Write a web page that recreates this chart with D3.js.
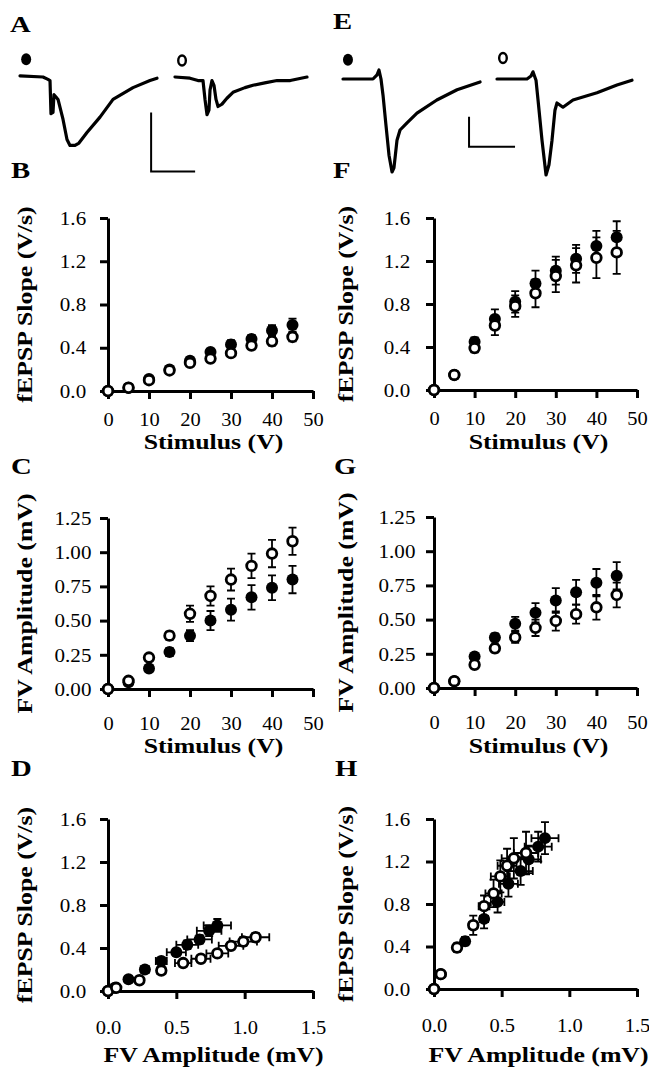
<!DOCTYPE html>
<html>
<head>
<meta charset="utf-8">
<script src="https://cdn.jsdelivr.net/npm/d3@7"></script>
<style>
  body { margin: 0; background: #fff; }
  text { font-family: "Liberation Serif", "Times New Roman", serif; fill: #000; }
</style>
</head>
<body>
<div class="chart"></div>
<script>
// ---- data ----
var stimulus = [0, 5, 10, 15, 20, 25, 30, 35, 40, 45];

// left column (B, C, D)
var slopeLeftFilled    = [0, 0.03, 0.11, 0.20, 0.28, 0.36, 0.43, 0.48, 0.56, 0.61];
var slopeLeftFilledErr = [0.01, 0.01, 0.02, 0.02, 0.03, 0.03, 0.04, 0.04, 0.05, 0.06];
var slopeLeftOpen      = [0, 0.03, 0.10, 0.19, 0.26, 0.30, 0.35, 0.42, 0.46, 0.50];
var slopeLeftOpenErr   = [0.01, 0.01, 0.02, 0.02, 0.02, 0.03, 0.03, 0.03, 0.04, 0.04];
var fvLeftFilled       = [0, 0.05, 0.15, 0.27, 0.39, 0.50, 0.58, 0.67, 0.74, 0.80];
var fvLeftFilledErr    = [0.01, 0.02, 0.02, 0.03, 0.04, 0.07, 0.08, 0.09, 0.09, 0.10];
var fvLeftOpen         = [0, 0.06, 0.23, 0.39, 0.55, 0.68, 0.80, 0.90, 0.99, 1.08];
var fvLeftOpenErr      = [0.01, 0.02, 0.02, 0.03, 0.06, 0.07, 0.08, 0.09, 0.10, 0.10];

// right column (F, G, H)
var slopeRightFilled    = [0, 0.14, 0.45, 0.66, 0.82, 0.99, 1.11, 1.22, 1.34, 1.42];
var slopeRightFilledErr = [0.01, 0.02, 0.04, 0.09, 0.10, 0.12, 0.13, 0.13, 0.14, 0.15];
var slopeRightOpen      = [0, 0.14, 0.39, 0.60, 0.78, 0.90, 1.06, 1.16, 1.23, 1.28];
var slopeRightOpenErr   = [0.01, 0.02, 0.04, 0.09, 0.10, 0.13, 0.15, 0.16, 0.19, 0.20];
var fvRightFilled       = [0, 0.05, 0.23, 0.37, 0.47, 0.55, 0.64, 0.70, 0.77, 0.82];
var fvRightFilledErr    = [0.01, 0.01, 0.02, 0.03, 0.05, 0.07, 0.09, 0.09, 0.10, 0.10];
var fvRightOpen         = [0, 0.05, 0.17, 0.29, 0.37, 0.44, 0.49, 0.54, 0.59, 0.68];
var fvRightOpenErr      = [0.01, 0.01, 0.02, 0.03, 0.04, 0.06, 0.07, 0.07, 0.09, 0.09];

var stimTicks  = [0, 10, 20, 30, 40, 50];
var slopeTicks = [0, 0.4, 0.8, 1.2, 1.6];
var fvTicks    = [0, 0.25, 0.5, 0.75, 1.0, 1.25];
var fvXTicks   = [0, 0.5, 1.0, 1.5];

// example traces: [time (ms), voltage (mV)]
var traceAFilled = [[0,0.01],[2.61,0],[3.18,-0.02],[3.41,-0.03],[3.52,-0.31],[3.75,-0.30],[3.86,-0.15],
  [4.09,-0.17],[4.32,-0.19],[4.89,-0.36],[5.34,-0.53],[5.68,-0.58],[6.25,-0.58],[6.7,-0.56],[7.61,-0.47],
  [9.09,-0.34],[10.57,-0.19],[12.84,-0.09],[14.77,-0.03],[15.57,-0.01]];
var traceAOpen = [[0,0],[1.7,-0.01],[2.61,-0.03],[3.18,-0.03],[3.41,-0.19],[3.64,-0.32],[3.86,-0.28],
  [3.98,-0.11],[4.2,-0.03],[4.43,-0.07],[4.66,-0.19],[4.89,-0.25],[5.34,-0.23],[5.9,-0.18],[6.59,-0.13],
  [7.95,-0.09],[8.86,-0.07],[10.2,-0.05],[11.6,-0.03],[13.1,-0.03],[15.0,0]];
var traceEFilled = [[0,0],[3.26,0],[3.7,0.07],[3.91,0.15],[4.13,0],[4.35,-0.27],[4.67,-0.77],[5.0,-1.27],
  [5.33,-1.55],[5.54,-1.48],[5.87,-1.02],[6.2,-0.85],[6.96,-0.73],[8.04,-0.57],[10.2,-0.35],[12.4,-0.18],[14.9,-0.05]];
var traceEOpen = [[0,0],[3.26,0],[3.7,0.05],[3.91,0.12],[4.24,-0.02],[4.46,-0.35],[4.89,-1.02],[5.33,-1.6],
  [5.65,-1.43],[5.98,-1.02],[6.3,-0.52],[6.52,-0.4],[7.17,-0.47],[8.26,-0.35],[10.87,-0.23],[13.04,-0.1],[14.67,-0.02]];
var scaleBarMs = 5, scaleBarMv = 0.5;

// ---- page ----
var svgWidth = 649, svgHeight = 1073;
var svg = d3.select(".chart").append("svg")
  .attr("width", svgWidth)
  .attr("height", svgHeight);
svg.append("rect").attr("width", svgWidth).attr("height", svgHeight).attr("fill", "#fff");

var TICK_FS = 19.5, TITLE_FS = 21.5, LETTER_FS = 23;

function panelLetter(txt, x, y) {
  svg.append("text")
    .attr("transform", `translate(${x},${y}) scale(1.25,1)`)
    .style("font-size", LETTER_FS + "px")
    .style("font-weight", "bold")
    .text(txt);
}

// scatter panel with error bars
function drawPanel(p) {
  var x = d3.scaleLinear().domain(p.xDomain).range([p.left, p.right]);
  var y = d3.scaleLinear().domain(p.yDomain).range([p.bottom, p.top]);
  var g = svg.append("g");

  var xAxis = g.append("g")
    .attr("transform", `translate(0,${p.bottom})`)
    .call(d3.axisBottom(x).tickValues(p.xTicks).tickFormat(p.xFormat).tickSize(8).tickSizeOuter(0));
  var yAxis = g.append("g")
    .attr("transform", `translate(${p.left},0)`)
    .call(d3.axisLeft(y).tickValues(p.yTicks).tickFormat(p.yFormat).tickSize(8).tickSizeOuter(0));

  [xAxis, yAxis].forEach(function(a) {
    a.select(".domain").attr("stroke-width", 3);
    a.selectAll(".tick line").attr("stroke-width", 3);
    a.selectAll("text").style("font-size", TICK_FS + "px").style("font-family", "Liberation Serif, serif");
  });
  xAxis.selectAll(".tick text")
    .attr("y", null).attr("dy", "0.35em")
    .attr("transform", `translate(0,${p.xLabelDy}) scale(1.05,1)`);
  yAxis.selectAll(".tick text")
    .attr("x", null).attr("text-anchor", "middle")
    .attr("transform", `translate(${-p.yLabelDx},0) scale(1.08,1)`);

  // axis titles
  g.append("text")
    .attr("transform", `translate(${(p.left + p.right) / 2 + 3},${p.xTitleY}) scale(1.2,1)`)
    .attr("text-anchor", "middle")
    .style("font-size", TITLE_FS + "px").style("font-weight", "bold")
    .text(p.xTitle);
  g.append("text")
    .attr("transform", `translate(${p.yTitleX},${(p.top + p.bottom) / 2}) rotate(-90) scale(1.2,1)`)
    .attr("text-anchor", "middle")
    .style("font-size", TITLE_FS + "px").style("font-weight", "bold")
    .text(p.yTitle);

  // series: filled drawn first, open on top
  p.series.forEach(function(s) {
    var pts = s.x.map(function(v, i) {
      return { x: v, y: s.y[i], xe: s.xErr ? s.xErr[i] : 0, ye: s.yErr[i] };
    });
    var sg = g.append("g");
    var cap = 4;
    // vertical error bars
    sg.selectAll("path.ey").data(pts).enter().append("path")
      .attr("class", "ey")
      .attr("d", function(d) {
        var cx = x(d.x), y1 = y(d.y - d.ye), y2 = y(d.y + d.ye);
        return `M${cx},${y1}V${y2}M${cx - cap},${y1}H${cx + cap}M${cx - cap},${y2}H${cx + cap}`;
      })
      .attr("stroke", "#000").attr("stroke-width", 1.8).attr("fill", "none");
    if (s.xErr) {
      sg.selectAll("path.ex").data(pts).enter().append("path")
        .attr("class", "ex")
        .attr("d", function(d) {
          var cy = y(d.y), x1 = x(d.x - d.xe), x2 = x(d.x + d.xe);
          return `M${x1},${cy}H${x2}M${x1},${cy - cap}V${cy + cap}M${x2},${cy - cap}V${cy + cap}`;
        })
        .attr("stroke", "#000").attr("stroke-width", 1.8).attr("fill", "none");
    }
    sg.selectAll("circle").data(pts).enter().append("circle")
      .attr("cx", function(d) { return x(d.x); })
      .attr("cy", function(d) { return y(d.y); })
      .attr("r", s.filled ? 6 : 4.8)
      .attr("fill", s.filled ? "#000" : "#fff")
      .attr("stroke", "#000")
      .attr("stroke-width", s.filled ? 0 : 2.8);
  });
}

var fmt1 = d3.format(".1f"), fmt2 = d3.format(".2f"), fmtInt = d3.format("d");
var colL = { left: 108, right: 313, yLabelDx: 35, yTitleX: 32 };
var colR = { left: 434, right: 637, yLabelDx: 37, yTitleX: 353 };

function stimSlope(col, bottom, top, filled, filledErr, open, openErr, extra) {
  return Object.assign({}, col, {
    bottom: bottom, top: top,
    xDomain: [0, 50], yDomain: [0, 1.6], xTicks: stimTicks, yTicks: slopeTicks,
    xFormat: fmtInt, yFormat: fmt1,
    xTitle: "Stimulus (V)", yTitle: "fEPSP Slope (V/s)",
    series: [
      { x: stimulus, y: filled, yErr: filledErr, filled: true },
      { x: stimulus, y: open, yErr: openErr, filled: false }
    ]
  }, extra);
}
function stimFv(col, bottom, top, filled, filledErr, open, openErr, extra) {
  return Object.assign({}, col, {
    bottom: bottom, top: top,
    xDomain: [0, 50], yDomain: [0, 1.25], xTicks: stimTicks, yTicks: fvTicks,
    xFormat: fmtInt, yFormat: fmt2,
    xTitle: "Stimulus (V)", yTitle: "FV Amplitude (mV)",
    series: [
      { x: stimulus, y: filled, yErr: filledErr, filled: true },
      { x: stimulus, y: open, yErr: openErr, filled: false }
    ]
  }, extra);
}
function fvSlope(col, bottom, top, fvF, fvFErr, slF, slFErr, fvO, fvOErr, slO, slOErr, extra) {
  return Object.assign({}, col, {
    bottom: bottom, top: top,
    xDomain: [0, 1.5], yDomain: [0, 1.6], xTicks: fvXTicks, yTicks: slopeTicks,
    xFormat: fmt1, yFormat: fmt1,
    xTitle: "FV Amplitude (mV)", yTitle: "fEPSP Slope (V/s)",
    series: [
      { x: fvF, xErr: fvFErr, y: slF, yErr: slFErr, filled: true },
      { x: fvO, xErr: fvOErr, y: slO, yErr: slOErr, filled: false }
    ]
  }, extra);
}

// B, C, D
drawPanel(stimSlope(colL, 391, 218, slopeLeftFilled, slopeLeftFilledErr, slopeLeftOpen, slopeLeftOpenErr,
  { xLabelDy: 28, xTitleY: 449 }));
drawPanel(stimFv(colL, 689, 518, fvLeftFilled, fvLeftFilledErr, fvLeftOpen, fvLeftOpenErr,
  { xLabelDy: 34, xTitleY: 753 }));
drawPanel(fvSlope(colL, 991, 819, fvLeftFilled, fvLeftFilledErr, slopeLeftFilled, slopeLeftFilledErr,
  fvLeftOpen, fvLeftOpenErr, slopeLeftOpen, slopeLeftOpenErr, { xLabelDy: 36, xTitleY: 1062 }));
// F, G, H
drawPanel(stimSlope(colR, 390, 218, slopeRightFilled, slopeRightFilledErr, slopeRightOpen, slopeRightOpenErr,
  { xLabelDy: 28, xTitleY: 449 }));
drawPanel(stimFv(colR, 688, 517, fvRightFilled, fvRightFilledErr, fvRightOpen, fvRightOpenErr,
  { xLabelDy: 34, xTitleY: 753 }));
drawPanel(fvSlope(colR, 989, 819, fvRightFilled, fvRightFilledErr, slopeRightFilled, slopeRightFilledErr,
  fvRightOpen, fvRightOpenErr, slopeRightOpen, slopeRightOpenErr, { xLabelDy: 36, xTitleY: 1062 }));

// ---- traces (A, E) ----
function drawTrace(data, x0, base, pxPerMs, pxPerMv, marker) {
  var tx = d3.scaleLinear().domain([0, 1]).range([x0, x0 + pxPerMs]);
  var ty = d3.scaleLinear().domain([0, 1]).range([base, base - pxPerMv]);
  svg.append("path")
    .datum(data)
    .attr("d", d3.line().x(function(d) { return tx(d[0]); }).y(function(d) { return ty(d[1]); }))
    .attr("fill", "none").attr("stroke", "#000").attr("stroke-width", 3.2)
    .attr("stroke-linejoin", "round").attr("stroke-linecap", "round");
  svg.append("ellipse")
    .attr("cx", tx(marker.t)).attr("cy", ty(marker.v))
    .attr("rx", marker.filled ? 5 : 3.8).attr("ry", marker.filled ? 6 : 5)
    .attr("fill", marker.filled ? "#000" : "#fff")
    .attr("stroke", "#000").attr("stroke-width", marker.filled ? 0 : 2.4);
  return { tx: tx, ty: ty };
}
function drawScaleBar(sc, t, v) {
  svg.append("path")
    .attr("d", `M${sc.tx(t)},${sc.ty(v + scaleBarMv)}V${sc.ty(v)}H${sc.tx(t + scaleBarMs)}`)
    .attr("fill", "none").attr("stroke", "#000").attr("stroke-width", 2);
}

var scA = drawTrace(traceAFilled, 20, 77, 8.8, 118, { t: 0.7, v: 0.15, filled: true });
drawTrace(traceAOpen, 175, 77, 8.8, 118, { t: 0.8, v: 0.14, filled: false });
drawScaleBar(scA, 14.9, -0.8);

var scE = drawTrace(traceEFilled, 343, 79, 9.2, 60, { t: 0.54, v: 0.32, filled: true });
drawTrace(traceEOpen, 497, 79, 9.2, 60, { t: 0.65, v: 0.35, filled: false });
drawScaleBar(scE, 13.7, -1.13);

// panel letters
panelLetter("A", 10, 32);
panelLetter("B", 11, 178);
panelLetter("C", 11, 474);
panelLetter("D", 11, 776);
panelLetter("E", 333, 29);
panelLetter("F", 333, 178);
panelLetter("G", 334, 474);
panelLetter("H", 335, 776);
</script>
</body>
</html>
